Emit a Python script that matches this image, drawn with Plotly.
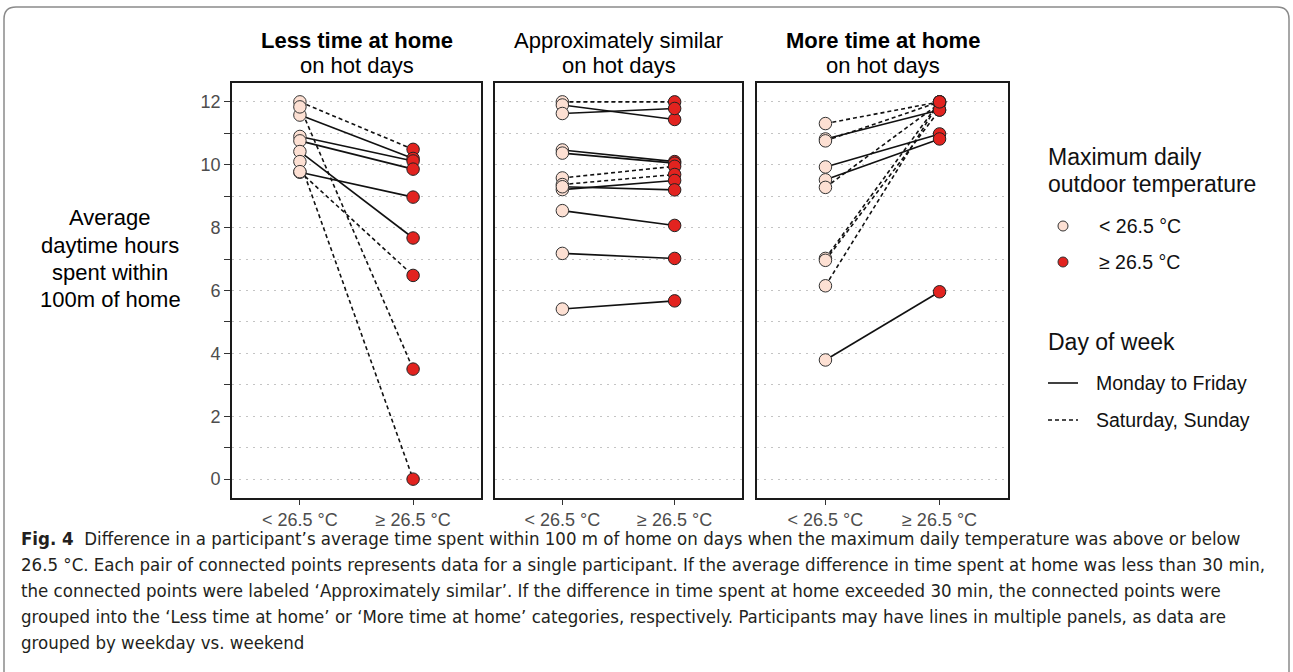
import plotly.graph_objects as go

# ---- data -------------------------------------------------------------
TEMP_LABELS = ["< 26.5 °C", "≥ 26.5 °C"]
PANEL_TITLES = [
    ("<b>Less time at home</b>", "on hot days"),
    ("Approximately similar", "on hot days"),
    ("<b>More time at home</b>", "on hot days"),
]
Y_TICKS = [0, 2, 4, 6, 8, 10, 12]
Y_TITLE_LINES = ["Average", "daytime hours", "spent within", "100m of home"]

# hours within 100 m of home: cooler days / hot days, and day type per participant line
LESS_COOL = [12.0, 11.58, 10.9, 10.76, 10.42, 9.76, 11.84, 10.1, 9.78]
LESS_HOT = [10.49, 10.2, 10.12, 9.86, 7.67, 8.97, 3.5, 0.0, 6.48]
LESS_DAY = ["weekend", "weekday", "weekday", "weekday", "weekday", "weekday",
            "weekend", "weekend", "weekend"]

SIMILAR_COOL = [12.0, 11.9, 11.63, 10.47, 10.37, 9.58, 9.37, 9.21, 9.3, 8.54, 7.18, 5.41]
SIMILAR_HOT = [12.0, 11.44, 11.79, 10.1, 10.05, 9.95, 9.69, 9.5, 9.2, 8.07, 7.02, 5.67]
SIMILAR_DAY = ["weekend", "weekday", "weekday", "weekday", "weekday", "weekend",
               "weekend", "weekday", "weekday", "weekday", "weekday", "weekday"]

MORE_COOL = [11.31, 10.82, 10.76, 9.93, 9.52, 9.28, 7.02, 6.96, 6.15, 3.79]
MORE_HOT = [12.0, 11.74, 12.0, 10.98, 10.82, 11.95, 12.0, 11.74, 12.0, 5.96]
MORE_DAY = ["weekend", "weekday", "weekend", "weekday", "weekday", "weekend",
            "weekend", "weekend", "weekend", "weekday"]

CAPTION_LINES = [
    "<b>Fig. 4</b>  Difference in a participant’s average time spent within 100 m of home on days when the maximum daily temperature was above or below",
    "26.5 °C. Each pair of connected points represents data for a single participant. If the average difference in time spent at home was less than 30 min,",
    "the connected points were labeled ‘Approximately similar’. If the difference in time spent at home exceeded 30 min, the connected points were",
    "grouped into the ‘Less time at home’ or ‘More time at home’ categories, respectively. Participants may have lines in multiple panels, as data are",
    "grouped by weekday vs. weekend",
]

# ---- styling ----------------------------------------------------------
W, H = 1293, 672
COOL_FILL = "#fde0d3"
HOT_FILL = "#e2231f"
FONT = "Liberation Sans, Arial, sans-serif"
CAPTION_FONT = "DejaVu Sans Condensed, Liberation Sans, sans-serif"
TICK_GREY = "#4d4d4d"

PANEL_PX = [(232, 481), (495, 742), (757, 1008)]
TOP_PX, BOTTOM_PX = 83, 498


def px_x(x):
    return x / W


def px_y(y):
    return 1 - y / H


panels = [
    (LESS_COOL, LESS_HOT, LESS_DAY),
    (SIMILAR_COOL, SIMILAR_HOT, SIMILAR_DAY),
    (MORE_COOL, MORE_HOT, MORE_DAY),
]

fig = go.Figure()

for i, (cool, hot, day) in enumerate(panels):
    xa = "x" if i == 0 else f"x{i + 1}"
    ya = "y" if i == 0 else f"y{i + 1}"
    # connecting lines, one per participant
    for c, h, d in zip(cool, hot, day):
        fig.add_trace(go.Scatter(
            x=TEMP_LABELS, y=[c, h], mode="lines",
            line=dict(color="#111111", width=1.6,
                      dash="solid" if d == "weekday" else "4px,3px"),
            xaxis=xa, yaxis=ya, showlegend=False, hoverinfo="skip",
        ))
    # points on top
    fig.add_trace(go.Scatter(
        x=[TEMP_LABELS[0]] * len(cool), y=cool, mode="markers",
        marker=dict(size=12.5, color=COOL_FILL, line=dict(color="#333333", width=1)),
        xaxis=xa, yaxis=ya, showlegend=False,
    ))
    fig.add_trace(go.Scatter(
        x=[TEMP_LABELS[1]] * len(hot), y=hot, mode="markers",
        marker=dict(size=12.5, color=HOT_FILL, line=dict(color="#222222", width=1)),
        xaxis=xa, yaxis=ya, showlegend=False,
    ))

layout = dict(
    width=W, height=H,
    margin=dict(l=0, r=0, t=0, b=0),
    paper_bgcolor="white", plot_bgcolor="white",
    font=dict(family=FONT, color="#000000"),
    showlegend=False,
)

for i, (x0, x1) in enumerate(PANEL_PX):
    sfx = "" if i == 0 else str(i + 1)
    layout[f"xaxis{sfx}"] = dict(
        domain=[px_x(x0), px_x(x1)],
        type="category", categoryorder="array", categoryarray=TEMP_LABELS,
        range=[-0.6, 1.6],
        showline=True, mirror=True, linecolor="#1a1a1a", linewidth=1.6,
        ticks="outside", ticklen=5, tickwidth=1.2, tickcolor="#333333",
        tickfont=dict(size=18, color=TICK_GREY, family=FONT),
        showgrid=False, zeroline=False, fixedrange=True,
        anchor="y" if i == 0 else f"y{i + 1}",
    )
    layout[f"yaxis{sfx}"] = dict(
        domain=[px_y(BOTTOM_PX), px_y(TOP_PX)],
        range=[-0.6, 12.6],
        tickvals=Y_TICKS,
        showticklabels=(i == 0),
        ticks="outside" if i == 0 else "",
        ticklen=6, tickwidth=1.2, tickcolor="#333333",
        tickfont=dict(size=18, color=TICK_GREY, family=FONT),
        showline=True, mirror=True, linecolor="#1a1a1a", linewidth=1.6,
        showgrid=True, gridcolor="#c4c4c4", gridwidth=1.2, griddash="2px,5px",
        minor=dict(dtick=1, showgrid=True, gridcolor="#c4c4c4", gridwidth=1.2,
                   griddash="2px,5px",
                   ticks="outside" if i == 0 else "", ticklen=6,
                   tickwidth=1.2, tickcolor="#333333"),
        zeroline=False, fixedrange=True,
        anchor="x" if i == 0 else f"x{i + 1}",
    )

annotations = []


def add_text(txt, x, y, size, anchor="left", color="#000000", family=FONT):
    annotations.append(dict(
        x=px_x(x), y=px_y(y), xref="paper", yref="paper", text=txt,
        showarrow=False, xanchor=anchor, yanchor="middle", align=anchor,
        font=dict(size=size, color=color, family=family),
    ))


# panel headers
for (x0, x1), (line1, line2) in zip(PANEL_PX, PANEL_TITLES):
    cx = (x0 + x1) / 2
    add_text(line1, cx, 40, 22, anchor="center")
    add_text(line2, cx, 66, 22, anchor="center")

# y-axis title
for k, line in enumerate(Y_TITLE_LINES):
    add_text(line, 110, 218 + 27.3 * k, 22, anchor="center")

# legend
add_text("Maximum daily", 1046, 157, 23, color="#111111")
add_text("outdoor temperature", 1046, 184, 23, color="#111111")
add_text("< 26.5 °C", 1097, 226, 19.5, color="#111111")
add_text("≥ 26.5 °C", 1097, 262, 19.5, color="#111111")
add_text("Day of week", 1046, 342, 23, color="#111111")
add_text("Monday to Friday", 1094, 383, 19.5, color="#111111")
add_text("Saturday, Sunday", 1094, 420, 19.5, color="#111111")

# caption
for k, line in enumerate(CAPTION_LINES):
    add_text(line, 19, 538 + 26 * k, 18.5, color="#231f20", family=CAPTION_FONT)

layout["annotations"] = annotations

shapes = []
# legend keys
for cy, fill in [(226, COOL_FILL), (262, HOT_FILL)]:
    r = 5
    shapes.append(dict(
        type="circle", xref="paper", yref="paper",
        x0=px_x(1063 - r), x1=px_x(1063 + r), y0=px_y(cy + r), y1=px_y(cy - r),
        fillcolor=fill, line=dict(color="#333333", width=1),
    ))
shapes.append(dict(type="line", xref="paper", yref="paper",
                   x0=px_x(1048), x1=px_x(1078), y0=px_y(383), y1=px_y(383),
                   line=dict(color="#111111", width=1.6)))
shapes.append(dict(type="line", xref="paper", yref="paper",
                   x0=px_x(1048), x1=px_x(1078), y0=px_y(420), y1=px_y(420),
                   line=dict(color="#111111", width=1.6, dash="4px,3px")))

# rounded frame around the figure and its caption
L, T, R, B, rad = 4, 7, 1289, 700, 12
path = (
    f"M {px_x(L)},{px_y(B)} L {px_x(L)},{px_y(T + rad)} "
    f"Q {px_x(L)},{px_y(T)} {px_x(L + rad)},{px_y(T)} "
    f"L {px_x(R - rad)},{px_y(T)} "
    f"Q {px_x(R)},{px_y(T)} {px_x(R)},{px_y(T + rad)} "
    f"L {px_x(R)},{px_y(B)}"
)
shapes.append(dict(type="path", xref="paper", yref="paper", path=path,
                   line=dict(color="#8a8a8a", width=1.5)))

layout["shapes"] = shapes

fig.update_layout(**layout)
fig.write_html("out.html")
